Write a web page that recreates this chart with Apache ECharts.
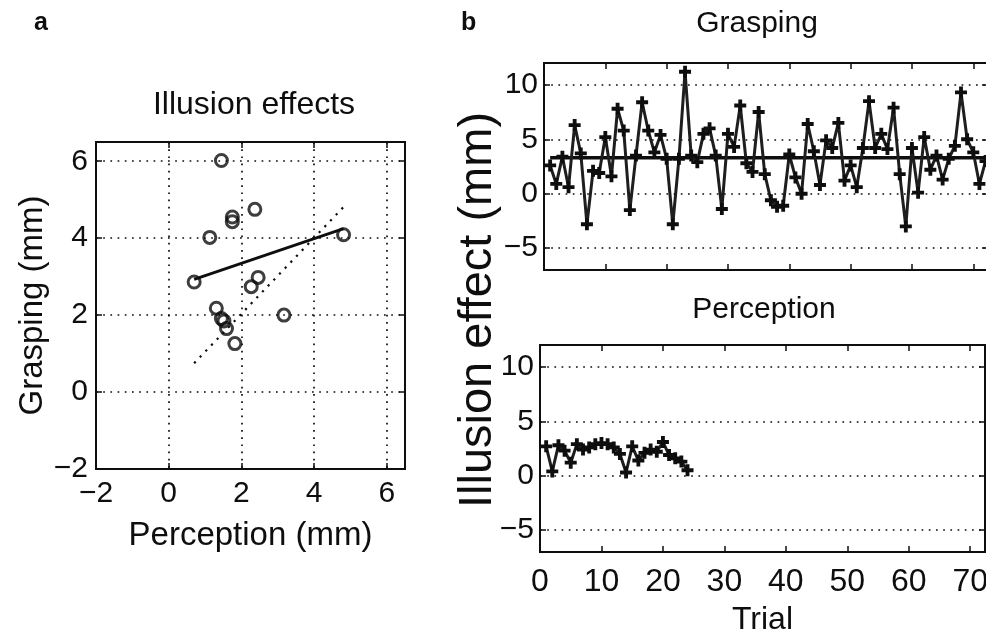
<!DOCTYPE html>
<html>
<head>
<meta charset="utf-8">
<script src="https://cdn.jsdelivr.net/npm/echarts@6/dist/echarts.min.js"></script>
<style>
  html, body { margin: 0; padding: 0; background: #fff; }
  #chart { width: 986px; height: 630px; }
</style>
</head>
<body>
<div id="chart"></div>
<script>
// panel a: perception vs grasping illusion effects (mm)
const perceptionEffect = [1.45, 2.37, 1.75, 1.75, 1.13, 4.81, 0.70, 2.46, 2.27, 1.31, 1.45, 1.52, 1.59, 1.82, 3.17];
const graspingEffect   = [6.02, 4.75, 4.55, 4.43, 4.02, 4.09, 2.86, 2.98, 2.74, 2.18, 1.91, 1.85, 1.65, 1.26, 2.00];
const fitLine      = [[0.70, 2.93], [4.81, 4.25]];
const identityLine = [[0.70, 0.75], [4.85, 4.85]];
const aTicks = [-2, 0, 2, 4, 6];

// panel b: illusion effect per trial
const graspTrials = [
  2.6, 0.9, 3.4, 0.6, 6.3, 3.7, -2.8, 2.1, 1.9, 5.2,
  1.6, 7.8, 5.8, -1.5, 3.5, 8.4, 5.8, 3.8, 5.4, 3.2,
  -2.8, 3.2, 11.2, 3.5, 2.9, 5.5, 6.0, 3.5, -1.4, 5.5,
  4.3, 8.1, 2.8, 2.0, 7.5, 1.8, -0.6, -1.2, -1.1, 3.6,
  1.5, 0.0, 6.4, 3.9, 0.8, 4.9, 4.2, 6.5, 1.2, 2.6,
  0.6, 4.2, 8.5, 4.2, 5.5, 4.1, 7.9, 1.8, -3.0, 4.2,
  0.1, 5.2, 2.2, 3.5, 1.3, 3.2, 4.4, 9.3, 5.0, 3.8,
  0.9, 3.0
];
const graspMean = 3.3;
const perceptTrials = [
  2.7, 0.4, 2.8, 2.3, 1.2, 2.9, 2.4, 2.6, 2.9, 3.0,
  2.9, 2.6, 2.0, 0.3, 2.7, 1.4, 2.1, 2.4, 2.2, 3.1,
  1.9, 1.6, 1.3, 0.5
];
const bXTicks = [0, 10, 20, 30, 40, 50, 60, 70];
const bYTicks = [-5, 0, 5, 10];

const font = 'Liberation Sans';
const ink = '#0e0e0e';
const plus = 'path://M3.4,0H6.6V3.4H10V6.6H6.6V10H3.4V6.6H0V3.4H3.4Z';
const minus = v => String(v).replace('-', '\u2212');

const toPairs = arr => arr.map((v, i) => [i + 1, v]);

// build an axis; "main" ones carry labels and dotted grid lines
function axis(opt) {
  return {
    type: 'value',
    gridIndex: opt.grid,
    position: opt.pos,
    min: opt.min,
    max: opt.max,
    name: opt.name || '',
    nameLocation: 'middle',
    nameGap: opt.nameGap,
    nameTextStyle: { fontFamily: font, fontSize: opt.nameSize || 33, color: ink },
    axisLine: { show: false, onZero: false },
    axisTick: { show: true, inside: true, length: 6, customValues: opt.ticks,
                lineStyle: { color: ink, width: 1.5 } },
    axisLabel: { show: !!opt.label, customValues: opt.ticks, margin: opt.margin || 8,
                 fontFamily: font, fontSize: opt.labelSize || 30, color: ink, formatter: minus },
    splitLine: { show: !!opt.split, lineStyle: { color: ink, width: 1.7, type: [1.7, 5.5] } }
  };
}

const chart = echarts.init(document.getElementById('chart'));

const frame = { show: true, borderColor: ink, borderWidth: 2, outerBoundsMode: 'none', containLabel: false };

chart.setOption({
  animation: false,
  backgroundColor: '#fff',
  grid: [
    Object.assign({ left: 96, top: 142, width: 309, height: 327 }, frame),
    Object.assign({ left: 544, top: 63, width: 444, height: 207 }, frame),
    Object.assign({ left: 540, top: 345, width: 445, height: 207 }, frame)
  ],
  title: [
    { text: 'a', left: 29, top: 6, textStyle: { fontFamily: font, fontSize: 25, fontWeight: 'bold', color: ink } },
    { text: 'b', left: 456, top: 6, textStyle: { fontFamily: font, fontSize: 25, fontWeight: 'bold', color: ink } },
    { text: 'Illusion effects', left: 249, top: 84, textAlign: 'center',
      textStyle: { fontFamily: font, fontSize: 32, fontWeight: 'normal', color: ink } },
    { text: 'Grasping', left: 752, top: 4, textAlign: 'center',
      textStyle: { fontFamily: font, fontSize: 30, fontWeight: 'normal', color: ink } },
    { text: 'Perception', left: 759, top: 290, textAlign: 'center',
      textStyle: { fontFamily: font, fontSize: 30, fontWeight: 'normal', color: ink } }
  ],
  graphic: [
    { type: 'text', x: 478, y: 310, rotation: Math.PI / 2,
      style: { text: 'Illusion effect (mm)', fontFamily: font, fontSize: 47, fill: ink,
               align: 'center', verticalAlign: 'middle' } }
  ],
  xAxis: [
    axis({ grid: 0, pos: 'bottom', min: -2, max: 6.5, ticks: aTicks, label: true, split: true,
           name: 'Perception (mm)', nameGap: 50, margin: 10 }),
    axis({ grid: 0, pos: 'top', min: -2, max: 6.5, ticks: aTicks }),
    axis({ grid: 1, pos: 'bottom', min: 0, max: 72.4, ticks: bXTicks }),
    axis({ grid: 1, pos: 'top', min: 0, max: 72.4, ticks: bXTicks }),
    axis({ grid: 2, pos: 'bottom', min: 0, max: 72.4, ticks: bXTicks, label: true, margin: 14,
           labelSize: 32, name: 'Trial', nameGap: 52, nameSize: 32 }),
    axis({ grid: 2, pos: 'top', min: 0, max: 72.4, ticks: bXTicks })
  ],
  yAxis: [
    axis({ grid: 0, pos: 'left', min: -2, max: 6.5, ticks: aTicks, label: true, split: true,
           name: 'Grasping (mm)', nameGap: 46 }),
    axis({ grid: 0, pos: 'right', min: -2, max: 6.5, ticks: aTicks }),
    axis({ grid: 1, pos: 'left', min: -7, max: 12, ticks: bYTicks, label: true, split: true, margin: 6 }),
    axis({ grid: 1, pos: 'right', min: -7, max: 12, ticks: bYTicks }),
    axis({ grid: 2, pos: 'left', min: -7, max: 12, ticks: bYTicks, label: true, split: true, margin: 6 }),
    axis({ grid: 2, pos: 'right', min: -7, max: 12, ticks: bYTicks })
  ],
  series: [
    {
      type: 'line', xAxisIndex: 0, yAxisIndex: 0, data: identityLine,
      showSymbol: false, lineStyle: { color: ink, width: 2.2, type: [2.2, 6] }
    },
    {
      type: 'line', xAxisIndex: 0, yAxisIndex: 0, data: fitLine,
      showSymbol: false, lineStyle: { color: ink, width: 2.8 }
    },
    {
      type: 'scatter', xAxisIndex: 0, yAxisIndex: 0,
      data: perceptionEffect.map((p, i) => [p, graspingEffect[i]]),
      symbol: 'circle', symbolSize: 12,
      itemStyle: { color: 'rgba(255,255,255,0)', borderColor: ink, borderWidth: 3 }
    },
    {
      type: 'line', xAxisIndex: 2, yAxisIndex: 2, data: [[1, graspMean], [72.4, graspMean]],
      showSymbol: false, lineStyle: { color: ink, width: 3.4 }
    },
    {
      type: 'line', xAxisIndex: 2, yAxisIndex: 2, data: toPairs(graspTrials),
      symbol: plus, symbolSize: 12, showAllSymbol: true,
      itemStyle: { color: ink }, lineStyle: { color: '#1e1e1e', width: 3 }
    },
    {
      type: 'line', xAxisIndex: 4, yAxisIndex: 4, data: toPairs(perceptTrials),
      symbol: plus, symbolSize: 12, showAllSymbol: true,
      itemStyle: { color: ink }, lineStyle: { color: '#1e1e1e', width: 3 }
    }
  ]
});
</script>
</body>
</html>
